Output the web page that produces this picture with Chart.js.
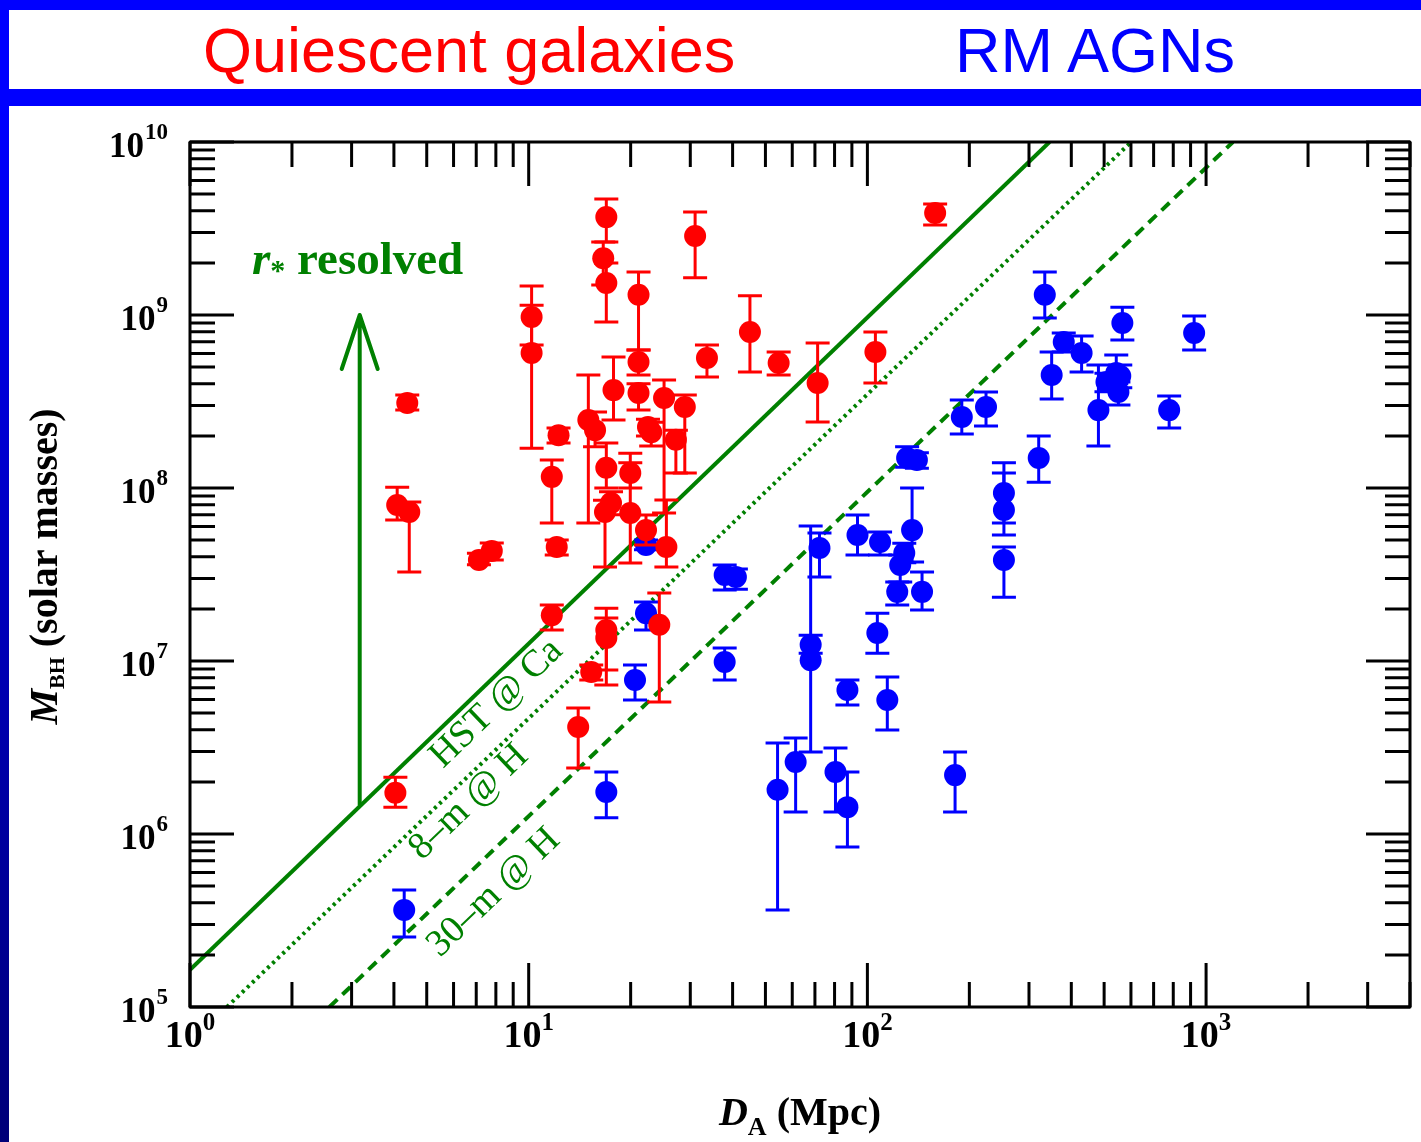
<!DOCTYPE html>
<html>
<head>
<meta charset="utf-8">
<script src="https://cdn.jsdelivr.net/npm/chart.js@4.4.1/dist/chart.umd.min.js"></script>
<style>
html,body{margin:0;padding:0;}
body{width:1421px;height:1142px;position:relative;overflow:hidden;
 background:linear-gradient(to bottom,#0000ff 0px,#0000ff 110px,#0000c8 500px,#000078 1142px);}
#hdr{position:absolute;left:9px;top:10px;width:1412px;height:79px;background:#fff;}
#panel{position:absolute;left:9px;top:106px;width:1412px;height:1036px;background:#fff;}
.t{position:absolute;top:19px;font-family:"Liberation Sans",Arial,sans-serif;font-size:63px;line-height:63px;white-space:nowrap;}
#c{position:absolute;left:0;top:0;}
</style>
</head>
<body>
<div id="hdr"></div>
<div id="panel"></div>
<span class="t" style="left:203px;color:#ff0000">Quiescent galaxies</span>
<span class="t" style="left:955px;color:#0000ff">RM AGNs</span>
<canvas id="c" width="1421" height="1142"></canvas>
<script>
// ---- Quiescent galaxies (red) ----
const redD  = [4.04, 4.09, 4.44, 4.38, 7.13, 7.78, 10.2, 10.2, 12.25, 11.7, 12.1, 11.7, 14.0, 15.3, 15.0, 15.7, 16.95, 16.6, 16.95, 21.1, 21.1, 21.1, 17.8, 25.1, 28.9, 33.6, 31.0, 22.5, 27.2, 23.0, 16.95, 17.5, 16.8, 19.95, 19.95, 22.2, 25.5, 24.3, 16.95, 16.95, 45.0, 54.7, 71.3, 105.6, 158.5];
const redM  = [1.73e6, 7.98e7, 7.27e7, 3.10e8, 3.84e7, 4.33e7, 9.73e8, 6.03e8, 2.02e8, 1.16e8, 4.56e7, 1.84e7, 4.15e6, 8.64e6, 2.47e8, 2.16e8, 3.68e9, 2.13e9, 1.53e9, 1.31e9, 5.35e8, 3.54e8, 3.68e8, 3.31e8, 2.94e8, 5.64e8, 2.86e9, 2.25e8, 1.9e8, 2.1e8, 1.31e8, 8.19e7, 7.27e7, 7.17e7, 1.22e8, 5.71e7, 4.56e7, 1.62e7, 1.51e7, 1.36e7, 7.98e8, 5.28e8, 4.05e8, 6.11e8, 3.89e9];
const redHi = [2.13e6, 1.01e8, 8.30e7, 3.45e8, 4.2e7, 4.81e7, 1.47e9, 1.14e9, 2.22e8, 1.45e8, 5.0e7, 2.11e7, 5.35e6, 9.48e6, 4.5e8, 2.75e8, 4.69e9, 2.64e9, 2.0e9, 1.77e9, 6.28e8, 4.0e8, 5.71e8, 4.21e8, 3.45e8, 6.71e8, 3.94e9, 2.5e8, 2.16e8, 2.4e8, 1.82e8, 9.5e7, 8.5e7, 1.40e8, 1.59e8, 6.98e7, 8.53e7, 2.47e7, 2.02e7, 1.77e7, 1.29e9, 6.11e8, 6.89e8, 7.98e8, 4.38e9];
const redLo = [1.43e6, 6.53e7, 3.27e7, 2.82e8, 3.6e7, 3.84e7, 6.71e8, 1.70e8, 1.82e8, 6.28e7, 4.1e7, 1.51e7, 2.41e6, 7.76e6, 6.28e7, 1.73e8, 2.64e9, 1.49e9, 9.12e8, 6.28e8, 4.5e8, 2.82e8, 2.47e8, 7.17e7, 1.22e8, 4.38e8, 1.64e9, 2.0e8, 1.22e8, 1.75e8, 1.0e8, 7.0e7, 3.49e7, 3.68e7, 1.0e8, 4.69e7, 3.49e7, 5.8e6, 8.87e6, 7.26e6, 4.69e8, 4.5e8, 2.41e8, 4.05e8, 3.31e9];

// ---- RM AGNs (blue) ----
const blueD  = [4.29, 16.95, 20.6, 22.2, 22.2, 37.9, 40.9, 37.9, 54.3, 61.4, 68.0, 68.0, 72.2, 80.5, 87.3, 87.3, 93.5, 109, 107, 114.5, 135.5, 128.5, 125, 122.5, 145, 131, 140, 181.5, 190, 224, 253, 253, 253, 320.5, 334, 350, 380, 429, 481, 508, 543, 558, 551, 566, 778, 922];
const blueM  = [3.64e5, 1.75e6, 7.76e6, 1.89e7, 4.69e7, 3.14e7, 3.06e7, 9.87e6, 1.80e6, 2.61e6, 1.24e7, 1.01e7, 4.5e7, 2.28e6, 1.43e6, 6.79e6, 5.35e7, 4.87e7, 1.45e7, 5.95e6, 5.71e7, 4.21e7, 3.59e7, 2.51e7, 2.51e7, 1.49e8, 1.45e8, 2.19e6, 2.57e8, 2.94e8, 9.35e7, 7.46e7, 3.84e7, 1.49e8, 1.31e9, 4.5e8, 6.98e8, 6.03e8, 2.82e8, 4.10e8, 4.62e8, 4.44e8, 3.59e8, 8.99e8, 2.82e8, 7.87e8];
const blueHi = [4.74e5, 2.28e6, 9.48e6, 2.19e7, 5.0e7, 3.59e7, 3.4e7, 1.19e7, 3.36e6, 3.59e6, 1.41e7, 6.03e7, 5.5e7, 3.14e6, 2.28e6, 7.76e6, 6.98e7, 5.57e7, 1.89e7, 8.08e6, 1.0e8, 4.8e7, 4.1e7, 2.86e7, 3.27e7, 1.73e8, 1.6e8, 2.98e6, 3.23e8, 3.59e8, 1.40e8, 1.22e8, 4.56e7, 2.0e8, 1.77e9, 6.11e8, 7.87e8, 7.57e8, 5.14e8, 4.6e8, 5.87e8, 5.14e8, 4.1e8, 1.11e9, 3.40e8, 9.87e8];
const blueLo = [2.54e5, 1.24e6, 5.95e6, 1.51e7, 4.4e7, 2.57e7, 2.6e7, 7.76e6, 3.64e5, 1.34e6, 1.11e7, 2.98e6, 3.06e7, 1.34e6, 8.41e5, 5.57e6, 4.10e7, 4.1e7, 1.11e7, 3.99e6, 3.73e7, 3.7e7, 2.86e7, 2.11e7, 1.97e7, 1.32e8, 1.3e8, 1.34e6, 2.05e8, 2.28e8, 6.28e7, 5.35e7, 2.34e7, 1.08e8, 9.61e8, 3.27e8, 6.11e8, 4.69e8, 1.75e8, 3.6e8, 4.0e8, 3.8e8, 3.02e8, 7.16e8, 2.22e8, 6.28e8];

// ---- resolution limit lines (end points) ----
const hstD = [1.0, 345];   const hstM = [1.64e5, 1e10];
const m8D  = [1.285, 601]; const m8M  = [1e5, 1e10];
const m30D = [2.58, 1200]; const m30M = [1e5, 1e10];

// ---- "resolved" arrow ----
const arrowD = [3.17, 3.17]; const arrowM = [1.47e6, 1e9];

// ---- axis ticks ----
const xTickExp = [0, 1, 2, 3];
const yTickExp = [5, 6, 7, 8, 9, 10];
const xRange = [1, 4000];
const yRange = [1e5, 1e10];

const pts = (xa, ya) => xa.map((v, i) => ({x: v, y: ya[i]}));
const GREEN = '#008000';

const errPlugin = {
  id: 'errbars',
  beforeDatasetDraw(chart, args) {
    const ds = chart.data.datasets[args.index];
    if (!ds.errLo) return;
    const xs = chart.scales.x, ys = chart.scales.y, ctx = chart.ctx, ca = chart.chartArea;
    ctx.save();
    ctx.beginPath(); ctx.rect(ca.left, ca.top, ca.right - ca.left, ca.bottom - ca.top); ctx.clip();
    ctx.strokeStyle = ds.backgroundColor; ctx.lineWidth = 3; ctx.lineCap = 'butt';
    ds.data.forEach((p, i) => {
      const px = xs.getPixelForValue(p.x);
      const yl = ys.getPixelForValue(ds.errLo[i]);
      const yh = ys.getPixelForValue(ds.errHi[i]);
      ctx.beginPath();
      ctx.moveTo(px, yl); ctx.lineTo(px, yh);
      ctx.moveTo(px - 12, yl); ctx.lineTo(px + 12, yl);
      ctx.moveTo(px - 12, yh); ctx.lineTo(px + 12, yh);
      ctx.stroke();
    });
    ctx.restore();
  }
};

function drawRich(ctx, parts, x, y, align) {
  let w = 0;
  parts.forEach(p => { ctx.font = p.font; p.w = ctx.measureText(p.t).width; w += p.w; });
  let cx = align === 'center' ? x - w / 2 : (align === 'right' ? x - w : x);
  ctx.textAlign = 'left'; ctx.textBaseline = 'alphabetic';
  parts.forEach(p => { ctx.font = p.font; ctx.fillText(p.t, cx, y + (p.dy || 0)); cx += p.w; });
}

const axesPlugin = {
  id: 'axesframe',
  afterDatasetsDraw(chart) {
    const ctx = chart.ctx, ca = chart.chartArea, xs = chart.scales.x, ys = chart.scales.y;
    ctx.save();
    // arrow
    ctx.strokeStyle = GREEN; ctx.lineWidth = 4; ctx.lineCap = 'round'; ctx.lineJoin = 'round';
    const ax = xs.getPixelForValue(arrowD[0]);
    const ay0 = ys.getPixelForValue(arrowM[0]), ay1 = ys.getPixelForValue(arrowM[1]);
    ctx.beginPath(); ctx.moveTo(ax, ay0); ctx.lineTo(ax, ay1);
    ctx.moveTo(ax - 18, ay1 + 54); ctx.lineTo(ax, ay1); ctx.lineTo(ax + 18, ay1 + 54);
    ctx.stroke();
    // annotations
    ctx.fillStyle = GREEN;
    drawRich(ctx, [
      {t: 'r', font: 'italic bold 47px "Liberation Serif"'},
      {t: '*', font: 'bold 30px "Liberation Serif"', dy: 6},
      {t: ' resolved', font: 'bold 47px "Liberation Serif"'}
    ], ca.left + 62, ca.top + 132, 'left');
    const lineLabel = (txt, D, M, lx, ly) => {
      const p0x = xs.getPixelForValue(D[0]), p0y = ys.getPixelForValue(M[0]);
      const p1x = xs.getPixelForValue(D[1]), p1y = ys.getPixelForValue(M[1]);
      const ang = Math.atan2(p1y - p0y, p1x - p0x);
      ctx.save(); ctx.translate(lx, ly); ctx.rotate(ang);
      ctx.font = '38px "Liberation Serif"'; ctx.textAlign = 'left'; ctx.textBaseline = 'alphabetic';
      ctx.fillText(txt, 0, 0); ctx.restore();
    };
    lineLabel('HST @ Ca', hstD, hstM, ca.left + 253, ca.top + 627);
    lineLabel('8\u2013m @ H', m8D, m8M, ca.left + 232, ca.top + 719);
    lineLabel('30\u2013m @ H', m30D, m30M, ca.left + 250, ca.top + 816);

    // frame
    ctx.strokeStyle = '#000'; ctx.lineWidth = 3; ctx.lineCap = 'butt';
    ctx.strokeRect(ca.left, ca.top, ca.right - ca.left, ca.bottom - ca.top);
    // ticks
    ctx.beginPath();
    xTickExp.forEach(e => {
      for (let m = 1; m <= 9; m++) {
        const v = m * Math.pow(10, e);
        if (v < xRange[0] || v > xRange[1]) continue;
        const px = xs.getPixelForValue(v);
        const len = m === 1 ? 44 : 25;
        ctx.moveTo(px, ca.bottom); ctx.lineTo(px, ca.bottom - len);
        ctx.moveTo(px, ca.top); ctx.lineTo(px, ca.top + len);
      }
    });
    yTickExp.forEach(e => {
      for (let m = 1; m <= 9; m++) {
        const v = m * Math.pow(10, e);
        if (v < yRange[0] || v > yRange[1]) continue;
        const py = ys.getPixelForValue(v);
        const len = m === 1 ? 44 : 25;
        ctx.moveTo(ca.left, py); ctx.lineTo(ca.left + len, py);
        ctx.moveTo(ca.right, py); ctx.lineTo(ca.right - len, py);
      }
    });
    ctx.stroke();
    // tick labels
    ctx.fillStyle = '#000';
    yTickExp.forEach(e => {
      const py = ys.getPixelForValue(Math.pow(10, e));
      ctx.font = 'bold 23px "Liberation Serif"';
      const sw = ctx.measureText(String(e)).width;
      const rx = ca.left - 22;
      ctx.textAlign = 'right'; ctx.textBaseline = 'alphabetic';
      ctx.font = 'bold 35px "Liberation Serif"';
      ctx.fillText('10', rx - sw - 1, py + 15);
      ctx.textAlign = 'left';
      ctx.font = 'bold 23px "Liberation Serif"';
      ctx.fillText(String(e), rx - sw, py - 3);
    });
    xTickExp.forEach(e => {
      const px = xs.getPixelForValue(Math.pow(10, e));
      drawRich(ctx, [
        {t: '10', font: 'bold 38px "Liberation Serif"'},
        {t: String(e), font: 'bold 25px "Liberation Serif"', dy: -17}
      ], px, ca.bottom + 40, 'center');
    });
    // axis titles
    drawRich(ctx, [
      {t: 'D', font: 'italic bold 40px "Liberation Serif"'},
      {t: 'A', font: 'bold 26px "Liberation Serif"', dy: 10},
      {t: ' (Mpc)', font: 'bold 40px "Liberation Serif"'}
    ], (ca.left + ca.right) / 2, 1125, 'center');
    ctx.save();
    ctx.translate(57, (ca.top + ca.bottom) / 2 - 8);
    ctx.rotate(-Math.PI / 2);
    drawRich(ctx, [
      {t: 'M', font: 'italic bold 40px "Liberation Serif"'},
      {t: 'BH', font: 'bold 22px "Liberation Serif"', dy: 7},
      {t: ' (solar masses)', font: 'bold 40px "Liberation Serif"'}
    ], 0, 0, 'center');
    ctx.restore();
    ctx.restore();
  }
};

new Chart(document.getElementById('c'), {
  type: 'scatter',
  data: {
    datasets: [
      {label: 'Quiescent galaxies', data: pts(redD, redM), errLo: redLo, errHi: redHi,
       backgroundColor: '#ff0000', borderColor: '#ff0000', borderWidth: 0, pointRadius: 11, order: 0},
      {label: 'RM AGNs', data: pts(blueD, blueM), errLo: blueLo, errHi: blueHi,
       backgroundColor: '#0000ff', borderColor: '#0000ff', borderWidth: 0, pointRadius: 11, order: 1},
      {type: 'line', label: 'HST @ Ca', data: pts(hstD, hstM), showLine: true, borderColor: GREEN,
       borderWidth: 4, pointRadius: 0, fill: false, order: 2},
      {type: 'line', label: '8-m @ H', data: pts(m8D, m8M), showLine: true, borderColor: GREEN,
       borderWidth: 4, borderDash: [3, 4], pointRadius: 0, fill: false, order: 3},
      {type: 'line', label: '30-m @ H', data: pts(m30D, m30M), showLine: true, borderColor: GREEN,
       borderWidth: 4, borderDash: [11, 7], pointRadius: 0, fill: false, order: 4}
    ]
  },
  options: {
    responsive: false, animation: false, devicePixelRatio: 1,
    layout: {padding: {left: 190, top: 142, right: 6, bottom: 135}},
    plugins: {legend: {display: false}, tooltip: {enabled: false}},
    scales: {
      x: {type: 'logarithmic', min: xRange[0], max: xRange[1], display: false},
      y: {type: 'logarithmic', min: yRange[0], max: yRange[1], display: false}
    }
  },
  plugins: [errPlugin, axesPlugin]
});
</script>
</body>
</html>
